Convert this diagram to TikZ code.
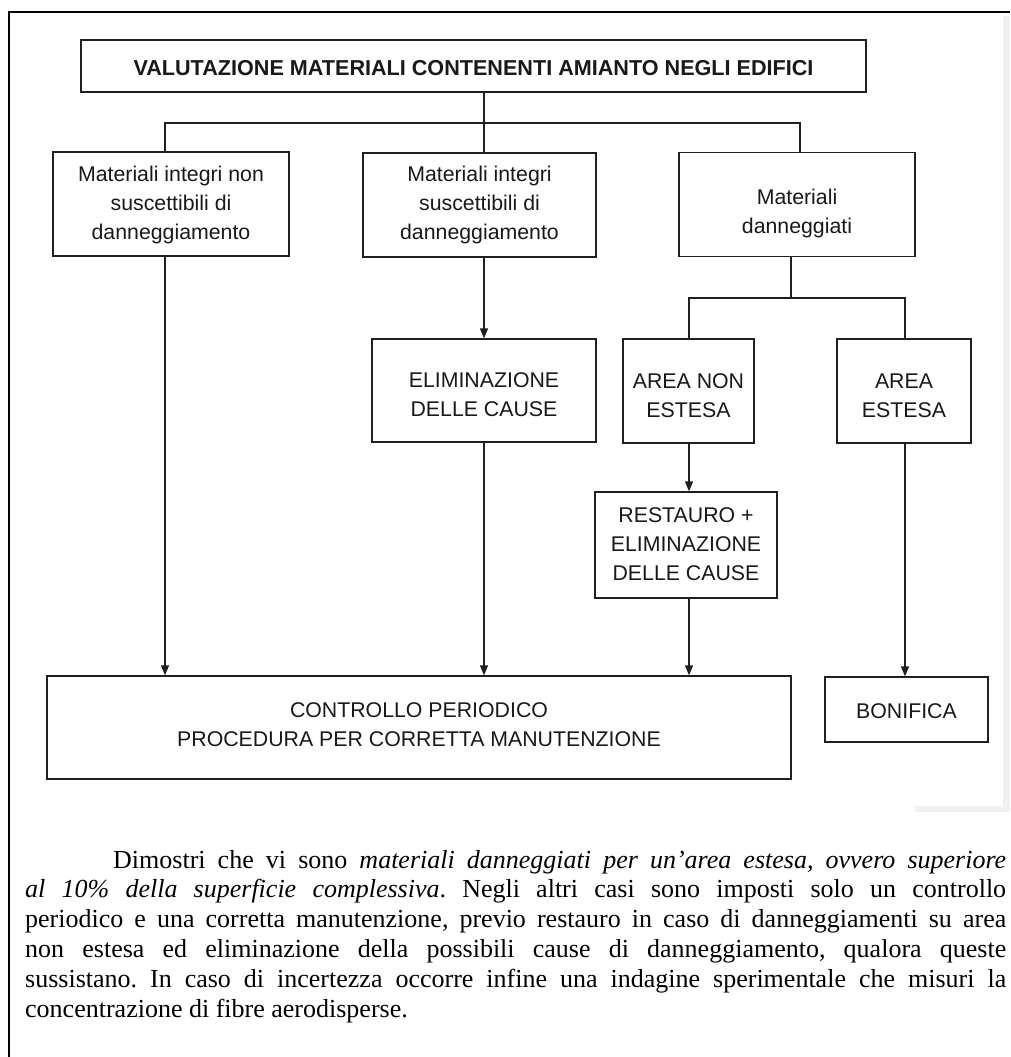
\documentclass[tikz,border=0pt]{standalone}
\usepackage{fontspec}
\setmainfont{Liberation Serif}
\newfontfamily\arialf{Liberation Sans}
\newfontfamily\bodyf{Liberation Serif}
\usetikzlibrary{arrows.meta}
\newcommand{\tl}[2][0pt]{\raisebox{-#1}[\height][\depth]{\begin{tabular}{@{}c@{}}#2\end{tabular}}}
\begin{document}
\begin{tikzpicture}[x=1pt,y=-1pt,
  box/.style={draw=black!88, line width=1.3pt, inner sep=0pt, text=black!90,
    font=\arialf\fontsize{21.3}{29}\selectfont},
  conn/.style={draw=black!88, line width=1.3pt},
  arr/.style={conn, -{Triangle[length=10pt,width=8pt]}}]
\useasboundingbox (0,0) rectangle (1010,1057);
\fill[white] (0,0) rectangle (1010,1057);
% scan shadow at right
\fill[black!6] (1003,16) rectangle (1010,812);
\fill[black!6] (915,806) rectangle (1010,812);
% page frame
\draw[line width=2pt, black] (9,1057) -- (9,12) -- (1010,12);

% boxes
\node[box, minimum width=785pt, minimum height=52pt,
  font=\arialf\bfseries\fontsize{21.6}{26}\selectfont] (title) at (473.5,66)
  {\tl[4pt]{VALUTAZIONE MATERIALI CONTENENTI AMIANTO NEGLI EDIFICI}};
\node[box, minimum width=236pt, minimum height=104pt] (b1) at (171,204)
  {\tl[1pt]{Materiali integri non\\suscettibili di\\danneggiamento}};
\node[box, minimum width=233pt, minimum height=104pt] (b2) at (479.5,205)
  {\tl[0pt]{Materiali integri\\suscettibili di\\danneggiamento}};
\node[box, minimum width=236pt, minimum height=104pt] (b3) at (797,204.5)
  {\tl[9pt]{Materiali\\danneggiati}};
\node[box, minimum width=224pt, minimum height=103pt] (elim) at (484,390.5)
  {\tl[6pt]{ELIMINAZIONE\\DELLE CAUSE}};
\node[box, minimum width=131pt, minimum height=104pt] (anE) at (688.5,391)
  {\tl[6pt]{AREA NON\\ESTESA}};
\node[box, minimum width=134pt, minimum height=104pt] (aE) at (904,391)
  {\tl[6pt]{AREA\\ESTESA}};
\node[box, minimum width=182pt, minimum height=106pt] (rest) at (686,545)
  {\tl[1pt]{RESTAURO +\\ELIMINAZIONE\\DELLE CAUSE}};
\node[box, minimum width=744pt, minimum height=103pt] (ctrl) at (419,727.5)
  {\tl[-1pt]{CONTROLLO PERIODICO\\PROCEDURA PER CORRETTA MANUTENZIONE}};
\node[box, minimum width=163pt, minimum height=65pt] (bon) at (906.5,709.5)
  {\tl[3pt]{BONIFICA}};

% connectors
\coordinate (j1) at (165,123);
\coordinate (j2) at (484,123);
\coordinate (j3) at (800,123);
\draw[conn] (title.south -| j2) -- (j2);
\draw[conn] (b1.north -| j1) -- (j1) -- (j3) -- (b3.north -| j3);
\draw[conn] (j2) -- (b2.north -| j2);
\coordinate (k) at (791,298);
\coordinate (k1) at (689,298);
\coordinate (k2) at (905,298);
\draw[conn] (b3.south -| k) -- (k);
\draw[conn] (anE.north -| k1) -- (k1) -- (k2) -- (aE.north -| k2);
\draw[arr] (b1.south -| j1) -- (ctrl.north -| j1);
\draw[arr] (b2.south -| j2) -- (elim.north -| j2);
\draw[arr] (elim.south -| j2) -- (ctrl.north -| j2);
\draw[arr] (anE.south -| k1) -- (rest.north -| k1);
\draw[arr] (rest.south -| k1) -- (ctrl.north -| k1);
\draw[arr] (aE.south -| k2) -- (bon.north -| k2);

% paragraph
\node[anchor=base west, inner sep=0pt, text width=981pt, align=justify,
  font=\bodyf\fontsize{26}{29.8}\selectfont] (para) at (25,868)
  {\frenchspacing\tolerance=10000\hyphenpenalty=10000\hspace*{88pt}Dimostri che vi sono \textit{materiali danneggiati per un’area estesa, ovvero superiore}\linebreak
  \textit{al 10\% della superficie complessiva}. Negli altri casi sono imposti solo un controllo\linebreak
  periodico e una corretta manutenzione, previo restauro in caso di danneggiamenti su area\linebreak
  non estesa ed eliminazione della possibili cause di danneggiamento, qualora queste\linebreak
  sussistano. In caso di incertezza occorre infine una indagine sperimentale che misuri la\linebreak
  concentrazione di fibre aerodisperse.};
\end{tikzpicture}
\end{document}
